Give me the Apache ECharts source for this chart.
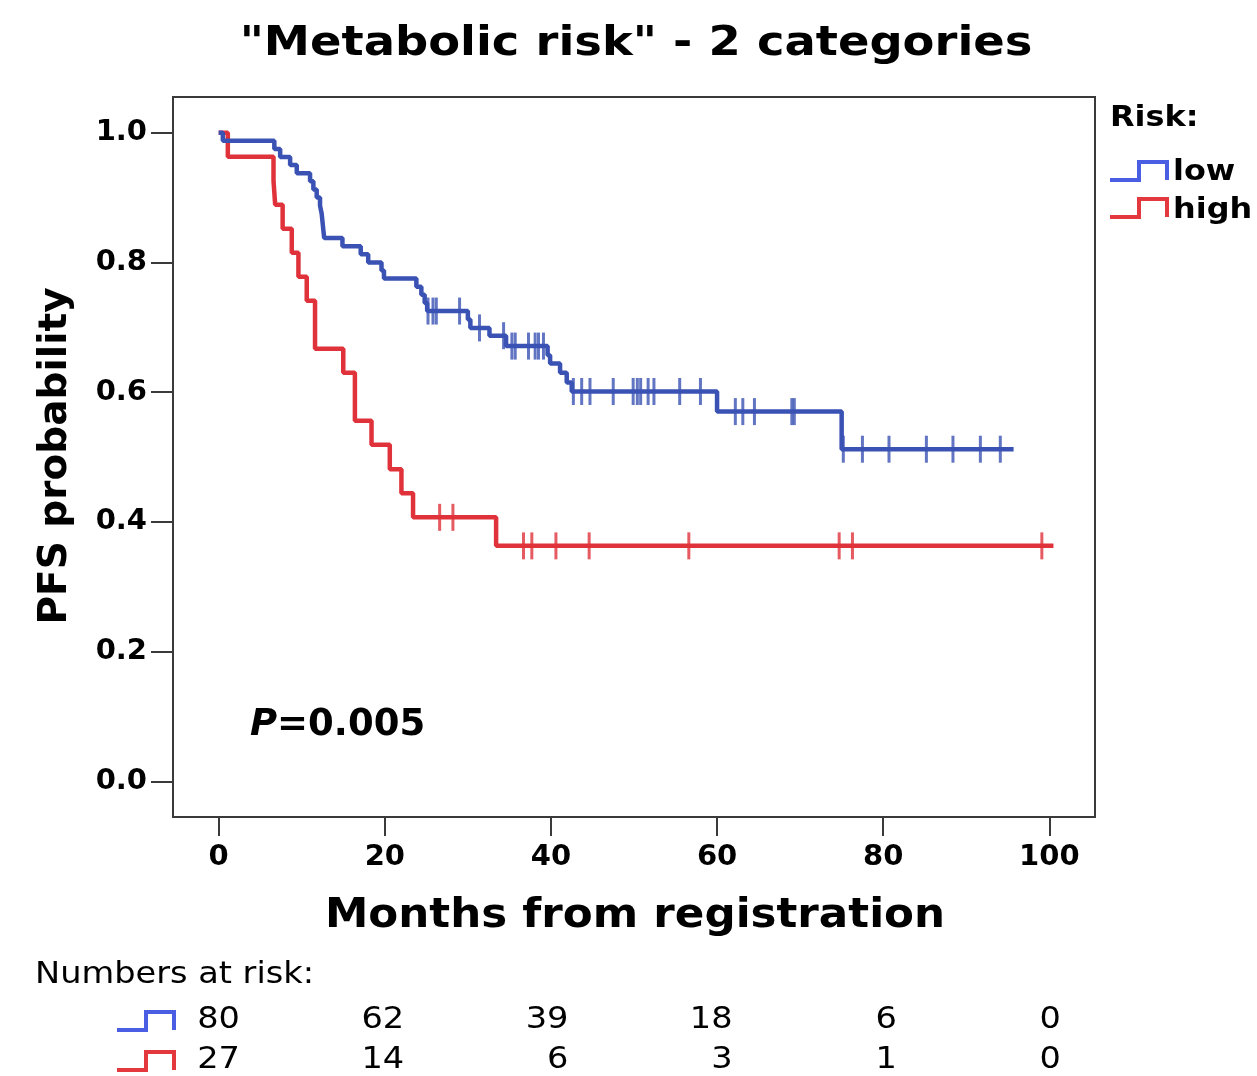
<!DOCTYPE html>
<html>
<head>
<meta charset="utf-8">
<script src="https://cdn.jsdelivr.net/npm/echarts@6/dist/echarts.min.js"></script>
<style>
  html, body { margin: 0; padding: 0; background: #ffffff; }
  #chart { width: 1257px; height: 1076px; }
</style>
</head>
<body>
<div id="chart"></div>
<script>
// ---- data -----------------------------------------------------------------
const timeTicks = [0, 20, 40, 60, 80, 100];
const probTicks = [0, 0.2, 0.4, 0.6, 0.8, 1.0];

// Kaplan-Meier steps [months, PFS probability], low metabolic risk
const lowCurve = [
  [0, 1.0], [0.5, 0.9875], [6.7, 0.975], [7.4, 0.9625], [8.6, 0.95], [9.4, 0.9375],
  [11.0, 0.925], [11.4, 0.9125], [11.8, 0.9], [12.2, 0.8875], [12.4, 0.875],
  [12.5, 0.8625], [12.6, 0.85], [12.7, 0.8375], [14.9, 0.825], [17.1, 0.8125],
  [18.0, 0.8], [19.6, 0.7875], [19.9, 0.775], [23.8, 0.7625], [24.4, 0.75],
  [24.8, 0.7375], [25.1, 0.725], [30.0, 0.712], [30.3, 0.699], [32.6, 0.687],
  [34.6, 0.671], [39.6, 0.657], [39.9, 0.644], [41.1, 0.630], [41.9, 0.615],
  [42.5, 0.601], [60.0, 0.570], [75.0, 0.512], [95.7, 0.512]
];
// censored observations, low risk
const lowCensored = [
  [25.2, 0.725], [25.8, 0.725], [26.2, 0.725], [29.0, 0.725], [31.4, 0.699],
  [34.3, 0.687], [35.3, 0.671], [35.7, 0.671], [37.3, 0.671], [38.1, 0.671],
  [38.5, 0.671], [39.1, 0.671], [42.7, 0.601], [43.7, 0.601], [44.7, 0.601],
  [47.5, 0.601], [49.9, 0.601], [50.4, 0.601], [50.8, 0.601], [51.7, 0.601],
  [52.4, 0.601], [55.5, 0.601], [58.0, 0.601], [62.2, 0.570], [63.1, 0.570],
  [64.5, 0.570], [69.0, 0.570], [69.3, 0.570], [75.2, 0.512], [77.5, 0.512],
  [80.7, 0.512], [85.2, 0.512], [88.4, 0.512], [91.7, 0.512], [94.1, 0.512]
];

// Kaplan-Meier steps, high metabolic risk
const highCurve = [
  [0, 1.0], [1.1, 0.963], [6.6, 0.926], [6.8, 0.889], [7.7, 0.852], [8.8, 0.815],
  [9.6, 0.778], [10.6, 0.741], [11.6, 0.667], [15.0, 0.630], [16.4, 0.556],
  [18.4, 0.519], [20.6, 0.481], [22.0, 0.444], [23.4, 0.407], [33.4, 0.363],
  [100.5, 0.363]
];
const highCensored = [
  [26.6, 0.407], [28.2, 0.407], [36.7, 0.363], [37.7, 0.363], [40.6, 0.363],
  [44.6, 0.363], [56.6, 0.363], [74.7, 0.363], [76.3, 0.363], [99.1, 0.363]
];

const atRiskTimes = [0, 20, 40, 60, 80, 100];
const atRiskLow = [80, 62, 39, 18, 6, 0];
const atRiskHigh = [27, 14, 6, 3, 1, 0];

const groupNames = ['low', 'high'];
const pValueText = '0.005';

// ---- styling --------------------------------------------------------------
const FONT = '"DejaVu Sans", Verdana, sans-serif';
const BLUE = '#3a52b4';
const RED = '#e0323a';
const BLUE_ICON = '#4a5ee4';
const RED_ICON = '#e2383e';
const FRAME = '#3a3a3a';

const chart = echarts.init(document.getElementById('chart'), null, { renderer: 'canvas' });

function stepIcon(x, yLow, color) {
  // small step glyph used as a key: low run, rise, high run, drop
  return {
    type: 'polyline',
    shape: { points: [[x, yLow], [x + 29, yLow], [x + 29, yLow - 18], [x + 57, yLow - 18], [x + 57, yLow]] },
    style: { stroke: color, lineWidth: 4, fill: null },
    silent: true
  };
}

function txt(x, y, text, font, align, scaleX, extra) {
  return Object.assign({
    type: 'text', x: x, y: y, scaleX: scaleX || 1, silent: true,
    style: { text: text, font: font, fill: '#000', align: align, verticalAlign: 'middle',
             textAlign: align, textVerticalAlign: 'middle' }
  }, extra || {});
}

// numbers-at-risk table
const tableLeft = 240, tablePitch = 164.2;
const tableGraphics = [
  txt(35, 975, 'Numbers at risk:', '30px ' + FONT, 'left', 1.12),
  stepIcon(117, 1030, BLUE_ICON),
  stepIcon(117, 1070, RED_ICON)
];
atRiskTimes.forEach(function (t, i) {
  const xr = tableLeft + i * tablePitch;
  tableGraphics.push(txt(xr, 1020, String(atRiskLow[i]), '30px ' + FONT, 'right', 1.12));
  tableGraphics.push(txt(xr, 1060, String(atRiskHigh[i]), '30px ' + FONT, 'right', 1.12));
});

const option = {
  backgroundColor: '#ffffff',
  animation: false,
  grid: {
    left: 173, right: 162, top: 97, bottom: 259,
    show: true, borderColor: FRAME, borderWidth: 2, backgroundColor: 'transparent',
    outerBoundsMode: 'none', containLabel: false
  },
  xAxis: {
    type: 'value', min: -5.5, max: 105.5,
    axisLine: { show: true, onZero: false, lineStyle: { color: FRAME, width: 2 } },
    axisTick: { show: true, inside: false, length: 19, customValues: timeTicks,
                lineStyle: { color: FRAME, width: 2 } },
    axisLabel: { show: true, customValues: timeTicks, margin: 26,
                 fontFamily: FONT, fontWeight: 'bold', fontSize: 29, color: '#000' },
    splitLine: { show: false }
  },
  yAxis: {
    type: 'value', min: -0.055, max: 1.055,
    axisLine: { show: true, onZero: false, lineStyle: { color: FRAME, width: 2 } },
    axisTick: { show: true, inside: false, length: 22, customValues: probTicks,
                lineStyle: { color: FRAME, width: 2 } },
    axisLabel: { show: true, customValues: probTicks, margin: 26,
                 formatter: function (v) { return v.toFixed(1); },
                 fontFamily: FONT, fontWeight: 'bold', fontSize: 29, color: '#000' },
    splitLine: { show: false }
  },
  series: [
    {
      name: groupNames[1], type: 'line', data: highCurve, step: 'end',
      showSymbol: false, symbol: 'none', z: 2,
      lineStyle: { color: RED, width: 4.5 }
    },
    {
      name: groupNames[0], type: 'line', data: lowCurve, step: 'end',
      showSymbol: false, symbol: 'none', z: 3,
      lineStyle: { color: BLUE, width: 4.5 }
    },
    {
      name: groupNames[1] + ' censored', type: 'scatter', data: highCensored,
      symbol: 'rect', symbolSize: [3, 27], z: 4, silent: true,
      itemStyle: { color: RED }
    },
    {
      name: groupNames[0] + ' censored', type: 'scatter', data: lowCensored,
      symbol: 'rect', symbolSize: [3, 27], z: 4, silent: true,
      itemStyle: { color: BLUE }
    }
  ],
  graphic: [
    txt(636, 45, '"Metabolic risk" - 2 categories', 'bold 40px ' + FONT, 'center', 1.16),
    txt(635, 917, 'Months from registration', 'bold 40px ' + FONT, 'center', 1.09),
    txt(56, 456, 'PFS probability', 'bold 39px ' + FONT, 'center', 1, { rotation: Math.PI / 2 }),
    {
      type: 'text', x: 250, y: 725, silent: true,
      style: {
        text: '{i|P}{b|=' + pValueText + '}',
        align: 'left', verticalAlign: 'middle', textAlign: 'left', textVerticalAlign: 'middle',
        rich: {
          i: { fontFamily: FONT, fontWeight: 'bold', fontStyle: 'italic', fontSize: 37, fill: '#000', color: '#000' },
          b: { fontFamily: FONT, fontWeight: 'bold', fontSize: 37, fill: '#000', color: '#000' }
        }
      }
    },
    // key
    txt(1110, 118, 'Risk:', 'bold 29px ' + FONT, 'left', 1.1),
    stepIcon(1110, 180, BLUE_ICON),
    txt(1173, 172, groupNames[0], 'bold 29px ' + FONT, 'left', 1.1),
    stepIcon(1110, 217, RED_ICON),
    txt(1173, 210, groupNames[1], 'bold 29px ' + FONT, 'left', 1.1)
  ].concat(tableGraphics)
};

chart.setOption(option);
</script>
</body>
</html>
